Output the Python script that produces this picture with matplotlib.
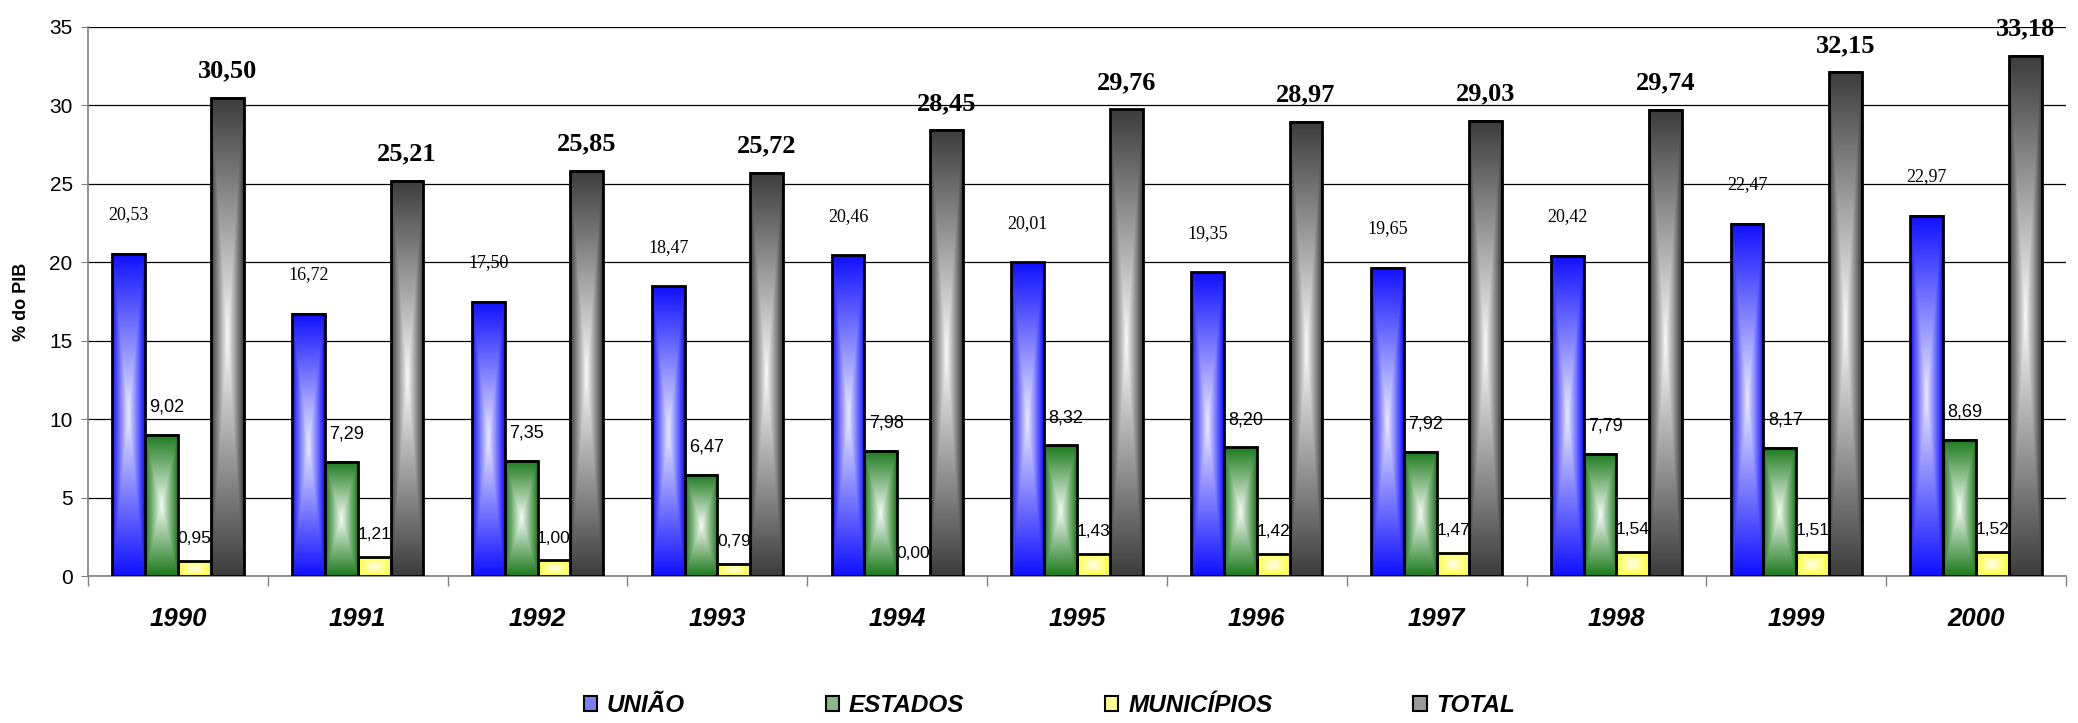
import numpy as np
import matplotlib
matplotlib.use("Agg")
import matplotlib.pyplot as plt
from matplotlib.colors import to_rgb
from matplotlib.patches import Patch

anos = ["1990", "1991", "1992", "1993", "1994", "1995", "1996", "1997", "1998", "1999", "2000"]
uniao = [20.53, 16.72, 17.50, 18.47, 20.46, 20.01, 19.35, 19.65, 20.42, 22.47, 22.97]
estados = [9.02, 7.29, 7.35, 6.47, 7.98, 8.32, 8.20, 7.92, 7.79, 8.17, 8.69]
municipios = [0.95, 1.21, 1.00, 0.79, 0.00, 1.43, 1.42, 1.47, 1.54, 1.51, 1.52]
total = [30.50, 25.21, 25.85, 25.72, 28.45, 29.76, 28.97, 29.03, 29.74, 32.15, 33.18]
series_nomes = ["UNIÃO", "ESTADOS", "MUNICÍPIOS", "TOTAL"]

# (borda, centro) de cada gradiente
cores = [("#1010ff", "#eaeaff"),
         ("#1c7a1c", "#f4faf4"),
         ("#ffff30", "#fffff2"),
         ("#3c3c3c", "#fafafa")]

plt.rcParams['font.family'] = ['Liberation Sans', 'DejaVu Sans']

fig = plt.figure(figsize=(20.78, 7.23), dpi=100)
ax = fig.add_axes([88 / 2078, 1 - 576 / 723, (2066 - 88) / 2078, (576 - 27) / 723])

x = np.arange(len(anos))
w = 0.1825
offsets = [-1.5 * w, -0.5 * w, 0.5 * w, 1.5 * w]


def gradiente(borda, centro, n=240, m=60):
    # gradiente retangular a partir do centro
    u = np.abs(np.linspace(-1, 1, m))[None, :]
    v = np.abs(np.linspace(-1, 1, n))[:, None]
    t = np.maximum(u, v)[..., None]
    b = np.array(to_rgb(borda))
    c = np.array(to_rgb(centro))
    return c + (b - c) * t


dados = [uniao, estados, municipios, total]
for k, vals in enumerate(dados):
    bars = ax.bar(x + offsets[k], vals, w, facecolor="none", edgecolor="black",
                  linewidth=2, zorder=4)
    img = gradiente(*cores[k])
    for b in bars:
        h = b.get_height()
        if h <= 0:
            continue
        x0 = b.get_x()
        ax.imshow(img, extent=(x0, x0 + w, 0, h), aspect="auto", origin="lower",
                  zorder=3, interpolation="bilinear")

ax.set_xlim(-0.5, len(anos) - 0.5)
ax.set_ylim(0, 35)

# rótulos de valor
fmt = lambda v: f"{v:.2f}".replace(".", ",")
for i in range(len(anos)):
    ax.annotate(fmt(uniao[i]), (x[i] + offsets[0], uniao[i]), xytext=(0, 28),
                textcoords="offset points", ha="center", va="center",
                fontsize=13, family="Liberation Serif", zorder=6)
    ax.annotate(fmt(estados[i]), (x[i] + offsets[1], estados[i]), xytext=(4, 20),
                textcoords="offset points", ha="center", va="center",
                fontsize=13, zorder=6)
    ax.annotate(fmt(municipios[i]), (x[i] + offsets[2], municipios[i]), xytext=(0, 16),
                textcoords="offset points", ha="center", va="center",
                fontsize=12.5, zorder=6)
    ax.annotate(fmt(total[i]), (x[i] + offsets[3], total[i]), xytext=(0, 19),
                textcoords="offset points", ha="center", va="center",
                fontsize=19, fontweight="bold", family="Liberation Serif", zorder=6)

ax.set_yticks(np.arange(0, 36, 5))
ax.yaxis.grid(True, color="black", linewidth=0.9, zorder=1)
ax.set_axisbelow(True)
ax.tick_params(axis="y", labelsize=15, length=5, pad=6, color="#808080")

ax.set_xticks(x)
ax.set_xticklabels(anos, fontsize=18.5, fontweight="bold", fontstyle="italic")
ax.tick_params(axis="x", length=0, pad=22)
ax.set_xticks(np.arange(-0.5, len(anos)), minor=True)
ax.tick_params(axis="x", which="minor", length=7, color="#808080", width=1)

for s in ["top", "right"]:
    ax.spines[s].set_visible(False)
for s in ["left", "bottom"]:
    ax.spines[s].set_color("#808080")
    ax.spines[s].set_linewidth(1.2)

ax.set_ylabel("% do PIB", fontsize=13, fontweight="bold", labelpad=14)

handles = [Patch(facecolor=c[0], edgecolor="black", linewidth=1.5,
                 alpha=1) for c in cores]
for h, c in zip(handles, cores):
    mid = 0.5 * (np.array(to_rgb(c[0])) + np.array(to_rgb(c[1])))
    h.set_facecolor(mid)
fig.legend(handles, series_nomes, loc="center", bbox_to_anchor=(0.505, 0.024),
           ncol=4, frameon=False, handlelength=0.55, handleheight=0.55,
           handletextpad=0.4, columnspacing=5.8,
           prop={"size": 17.5, "weight": "bold", "style": "italic"})

fig.savefig("out.png", dpi=100)
